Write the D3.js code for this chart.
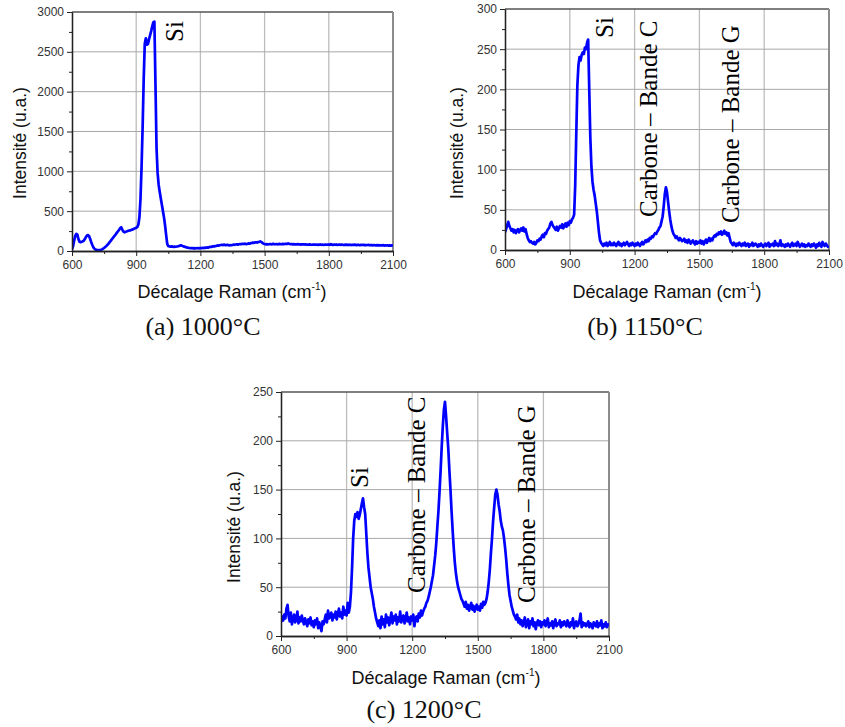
<!DOCTYPE html>
<html>
<head>
<meta charset="utf-8">
<script src="https://cdn.jsdelivr.net/npm/d3@7"></script>
<style>
  body { margin: 0; background: #fff; }
  svg { display: block; }
</style>
</head>
<body>
<svg id="chart" width="845" height="727"></svg>
<script>
// ---- Data ----
// Raman shift grid (cm-1), step 5, 600..2100
const shift = d3.range(600, 2101, 5);

// (a) 1000°C
const int1000 = [
  20, 60, 130, 190, 215, 205, 150, 115, 110, 115, 120, 130, 150, 175, 195, 200, 185, 150, 110, 75,
  45, 28, 18, 12, 10, 10, 12, 15, 20, 28, 38, 50, 60, 75, 90, 108, 125, 142, 160, 178,
  195, 212, 230, 248, 265, 288, 298, 268, 245, 235, 242, 245, 250, 255, 258, 262, 268, 272, 280, 285,
  292, 300, 330, 420, 650, 1050, 1550, 2150, 2600, 2670, 2590, 2600, 2660, 2710, 2760, 2820, 2870, 2880, 2100, 1300,
  980, 830, 740, 660, 580, 500, 420, 320, 200, 90, 62, 58, 55, 57, 55, 52, 55, 53, 56, 60,
  62, 68, 72, 65, 58, 55, 50, 45, 42, 40, 38, 35, 38, 34, 36, 33, 35, 37, 34, 36,
  38, 35, 40, 37, 42, 40, 45, 42, 48, 52, 50, 55, 60, 58, 62, 65, 70, 68, 72, 75,
  78, 74, 80, 76, 72, 78, 75, 70, 74, 72, 76, 80, 78, 82, 85, 80, 84, 88, 85, 90,
  88, 92, 90, 86, 90, 95, 92, 98, 100, 105, 102, 108, 110, 106, 112, 115, 120, 112, 100, 92,
  88, 84, 86, 82, 85, 88, 84, 86, 90, 87, 85, 88, 84, 86, 89, 85, 87, 90, 86, 88,
  92, 88, 95, 90, 86, 88, 84, 86, 82, 85, 83, 86, 82, 84, 80, 83, 85, 81, 84, 80,
  82, 79, 83, 80, 78, 81, 79, 82, 78, 80, 77, 80, 82, 78, 80, 76, 79, 81, 78, 80,
  82, 78, 85, 80, 77, 80, 78, 82, 76, 79, 81, 77, 80, 78, 75, 79, 77, 80, 76, 78,
  79, 75, 78, 76, 80, 77, 74, 78, 76, 73, 77, 75, 78, 74, 76, 72, 75, 77, 73, 75,
  74, 71, 75, 72, 70, 74, 71, 73, 69, 72, 70, 73, 68, 71, 69, 72, 67, 70, 68, 71,
  66
];

// (b) 1150°C
const int1150 = [
  22, 26, 31, 35, 30, 27, 24, 26, 22, 25, 21, 24, 26, 22, 25, 27, 24, 28, 23, 26,
  20, 15, 12, 10, 11, 9, 8, 10, 7, 9, 12, 11, 14, 13, 17, 19, 16, 21, 20, 24,
  26, 28, 33, 35, 31, 29, 27, 25, 29, 24, 27, 30, 28, 32, 27, 30, 33, 29, 34, 31,
  36, 34, 38, 40, 44, 80, 145, 205, 230, 240, 236, 243, 246, 244, 252, 250, 258, 262, 200, 140,
  104, 85, 75, 68, 58, 48, 35, 22, 12, 9, 7, 5, 8, 6, 9, 5, 7, 10, 6, 8,
  6, 9, 7, 5, 8, 10, 6, 8, 5, 7, 9, 6, 8, 10, 7, 5, 8, 6, 9, 7,
  5, 8, 6, 9, 7, 5, 8, 10, 7, 9, 12, 10, 13, 11, 15, 14, 17, 16, 19, 21,
  20, 23, 25, 28, 30, 36, 42, 55, 70, 78, 72, 60, 48, 38, 30, 24, 20, 18, 15, 17,
  14, 12, 15, 13, 11, 12, 14, 10, 12, 9, 13, 11, 8, 10, 12, 9, 7, 11, 8, 10,
  9, 12, 8, 11, 7, 10, 13, 9, 12, 15, 11, 14, 12, 16, 18, 17, 20, 19, 22, 20,
  23, 19, 21, 24, 20, 22, 18, 21, 15, 10, 8, 6, 9, 7, 5, 8, 6, 9, 7, 5,
  8, 6, 9, 5, 7, 8, 4, 7, 6, 9, 5, 7, 8, 6, 4, 7, 5, 8, 6, 4,
  6, 8, 5, 7, 9, 4, 7, 6, 8, 5, 11, 6, 8, 5, 7, 12, 5, 7, 6, 4,
  7, 5, 8, 6, 4, 7, 9, 5, 6, 8, 5, 10, 7, 4, 6, 8, 5, 7, 4, 6,
  5, 8, 6, 4, 7, 5, 8, 6, 3, 7, 5, 9, 6, 4, 10, 7, 5, 8, 6, 4,
  5
];

// (c) 1200°C
const int1200 = [
  14, 20, 16, 22, 18, 28, 32, 20, 15, 24, 12, 18, 22, 14, 17, 25, 13, 19, 15, 21,
  16, 12, 18, 14, 10, 17, 13, 19, 11, 15, 9, 16, 12, 18, 8, 14, 10, 5, 15, 12,
  17, 22, 14, 26, 18, 20, 24, 16, 22, 19, 25, 17, 23, 28, 20, 24, 18, 30, 22, 26,
  21, 34, 24, 30, 45, 70, 100, 118, 125, 122, 127, 120, 124, 130, 136, 141, 132, 125, 105, 85,
  70, 60, 50, 44, 38, 30, 24, 18, 14, 10, 16, 8, 20, 12, 17, 9, 22, 14, 19, 11,
  18, 24, 13, 20, 16, 22, 12, 19, 15, 25, 14, 18, 21, 13, 17, 24, 15, 19, 12, 20,
  16, 22, 10, 18, 20, 15, 23, 19, 26, 21, 25, 28, 30, 34, 36, 40, 45, 50, 56, 62,
  72, 82, 95, 112, 128, 148, 170, 194, 215, 232, 240, 225, 208, 192, 170, 150, 128, 108, 90, 75,
  64, 56, 50, 46, 42, 38, 36, 33, 30, 35, 28, 32, 26, 30, 34, 27, 31, 25, 29, 32,
  27, 30, 26, 33, 29, 35, 32, 34, 38, 45, 55, 68, 85, 100, 118, 132, 145, 150, 145, 135,
  128, 118, 112, 108, 100, 90, 78, 64, 52, 42, 36, 30, 26, 22, 20, 17, 22, 14, 18, 12,
  16, 10, 14, 19, 9, 13, 17, 8, 15, 12, 18, 10, 14, 7, 13, 16, 11, 15, 9, 14,
  12, 16, 10, 14, 18, 9, 13, 11, 15, 8, 14, 17, 10, 13, 12, 16, 9, 14, 11, 15,
  13, 10, 16, 12, 9, 14, 11, 18, 8, 13, 15, 10, 12, 16, 23, 9, 14, 11, 13, 10,
  12, 15, 9, 13, 11, 8, 14, 12, 10, 15, 9, 13, 11, 16, 8, 12, 10, 14, 9, 12,
  10
];

const xTicks = [600, 900, 1200, 1500, 1800, 2100];
const yTicks1000 = [0, 500, 1000, 1500, 2000, 2500, 3000];
const yTicks1150 = [0, 50, 100, 150, 200, 250, 300];
const yTicks1200 = [0, 50, 100, 150, 200, 250];
const captions = ["(a) 1000°C", "(b) 1150°C", "(c) 1200°C"];
const yTitle = "Intensité (u.a.)";
const xTitle = "Décalage Raman (cm";
const labels1000 = ["Si"];
const labels1150 = ["Si", "Carbone – Bande C", "Carbone – Bande G"];
const labels1200 = ["Si", "Carbone – Bande C", "Carbone – Bande G"];

// ---- Layout (positions only) ----
const panels = [
  { vals: int1000, yTicks: yTicks1000, yMax: 3000, yMinor: 250,
    box: {l: 72, r: 393, t: 12, b: 251},
    yTitlePos: [26, 143], xTitlePos: [232, 298], capPos: [203, 335],
    labels: labels1000, labelPos: [[183, 42]] },
  { vals: int1150, yTicks: yTicks1150, yMax: 300, yMinor: 25,
    box: {l: 505, r: 829, t: 9, b: 250},
    yTitlePos: [463, 143], xTitlePos: [667, 298], capPos: [645, 335],
    labels: labels1150, labelPos: [[613, 38], [657, 217], [739, 223]] },
  { vals: int1200, yTicks: yTicks1200, yMax: 250, yMinor: 25,
    box: {l: 281, r: 609, t: 392, b: 636},
    yTitlePos: [240, 527], xTitlePos: [446, 684], capPos: [424, 718],
    labels: labels1200, labelPos: [[368, 488], [425, 593], [535, 603]] }
];

const svg = d3.select("#chart");
const sans = "Arial, 'Liberation Sans', sans-serif";
const serif = "'Liberation Serif', 'Times New Roman', serif";

panels.forEach((p, i) => {
  const {l, r, t, b} = p.box;
  const x = d3.scaleLinear().domain([600, 2100]).range([l, r]);
  const y = d3.scaleLinear().domain([0, p.yMax]).range([b, t]);
  const g = svg.append("g");

  // grid
  g.append("g").selectAll("line").data(xTicks.slice(1, -1)).join("line")
    .attr("x1", d => x(d)).attr("x2", d => x(d)).attr("y1", t).attr("y2", b)
    .attr("stroke", "#bdbdbd").attr("stroke-width", 1.3);
  g.append("g").selectAll("line").data(p.yTicks.slice(1, -1)).join("line")
    .attr("x1", l).attr("x2", r).attr("y1", d => y(d)).attr("y2", d => y(d))
    .attr("stroke", "#a8a8a8").attr("stroke-width", 1);

  // frame: top and right
  g.append("line").attr("x1", l).attr("x2", r).attr("y1", t).attr("y2", t)
    .attr("stroke", "#555").attr("stroke-width", 1.3);
  g.append("line").attr("x1", r).attr("x2", r).attr("y1", t).attr("y2", b)
    .attr("stroke", "#8c8c8c").attr("stroke-width", 2);

  // clip
  const cid = "clip" + i;
  svg.append("clipPath").attr("id", cid).append("rect")
    .attr("x", l).attr("y", t - 2).attr("width", r - l).attr("height", b - t + 2);

  // spectrum
  const line = d3.line().x((d, k) => x(shift[k])).y(d => y(d));
  g.append("path").datum(p.vals)
    .attr("d", line)
    .attr("fill", "none").attr("stroke", "#0000ff")
    .attr("stroke-width", 2.7).attr("stroke-linejoin", "round")
    .attr("clip-path", `url(#${cid})`);

  // axes
  const xAxis = d3.axisBottom(x).tickValues(xTicks).tickSize(5).tickSizeOuter(0).tickPadding(4)
    .tickFormat(d3.format("d"));
  const xMinor = d3.axisBottom(x).tickValues(d3.range(750, 2100, 300)).tickSize(3).tickSizeOuter(0).tickFormat("");
  const yAxis = d3.axisLeft(y).tickValues(p.yTicks).tickSize(5).tickSizeOuter(0).tickPadding(3)
    .tickFormat(d3.format("d"));
  const yMinorVals = d3.range(p.yMinor, p.yMax, p.yMinor * 2);
  const yMinor = d3.axisLeft(y).tickValues(yMinorVals).tickSize(3).tickSizeOuter(0).tickFormat("");

  [[xMinor, `translate(0,${b})`], [yMinor, `translate(${l},0)`],
   [xAxis, `translate(0,${b})`], [yAxis, `translate(${l},0)`]].forEach(([ax, tr]) => {
    const a = g.append("g").attr("transform", tr).call(ax);
    a.selectAll("path.domain").attr("stroke", "#222").attr("stroke-width", 1.3);
    a.selectAll(".tick line").attr("stroke", "#222");
    a.selectAll("text").attr("font-family", sans).attr("font-size", 12).attr("fill", "#333");
  });

  // axis titles
  g.append("text")
    .attr("transform", `translate(${p.yTitlePos[0]},${p.yTitlePos[1]}) rotate(-90)`)
    .attr("text-anchor", "middle").attr("font-family", sans).attr("font-size", 17.5)
    .attr("fill", "#111").text(yTitle);
  const xt = g.append("text")
    .attr("x", p.xTitlePos[0]).attr("y", p.xTitlePos[1])
    .attr("text-anchor", "middle").attr("font-family", sans).attr("font-size", 18)
    .attr("fill", "#111");
  xt.append("tspan").text(xTitle);
  xt.append("tspan").attr("font-size", 10).attr("dy", -8).text("-1");
  xt.append("tspan").attr("dy", 8).text(")");

  // caption
  g.append("text").attr("x", p.capPos[0]).attr("y", p.capPos[1])
    .attr("text-anchor", "middle").attr("font-family", serif).attr("font-size", 26)
    .attr("fill", "#111").text(captions[i]);

  // peak labels
  p.labels.forEach((lb, k) => {
    const [lx, ly] = p.labelPos[k];
    g.append("text").attr("transform", `translate(${lx},${ly}) rotate(-90)`)
      .attr("font-family", serif).attr("font-size", 25).attr("fill", "#000")
      .text(lb);
  });
});
</script>
</body>
</html>
